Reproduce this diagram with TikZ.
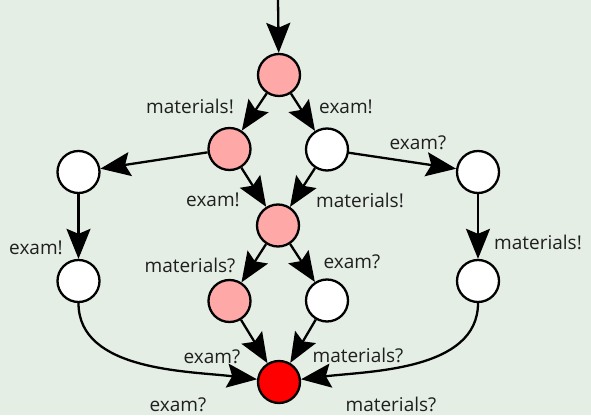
\documentclass[tikz,border=0pt]{standalone}
\usepackage{fontspec}
\setmainfont{Open Sans}
\usetikzlibrary{arrows.meta}
\definecolor{bg}{RGB}{228,238,229}
\definecolor{pinkst}{RGB}{255,168,168}
\definecolor{redst}{RGB}{255,0,0}
\begin{document}
\begin{tikzpicture}[x=1pt,y=1pt,
  st/.style={circle,draw=black,line width=2.3pt,minimum size=42pt,inner sep=0pt,fill=white},
  pk/.style={st,fill=pinkst},
  rd/.style={st,fill=redst},
  edge/.style={line width=2.3pt,-{Stealth[length=30pt,width=24pt,inset=5pt]}},
  lbl/.style={font=\fontsize{19}{22}\selectfont,inner sep=0pt,text=black!88}]
\fill[bg] (0,0) rectangle (591,415);
\useasboundingbox (0,0) rectangle (591,415);
\coordinate (start) at (278,415);
\node[pk] (s0) at (279,340) {};
\node[pk] (s1) at (229.5,266) {};
\node[st] (s2) at (327,265.5) {};
\node[pk] (s3) at (278,189.5) {};
\node[pk] (s4) at (229.5,114) {};
\node[st] (s5) at (327,114.5) {};
\node[rd] (s6) at (279,33) {};
\node[st] (L1) at (78.5,243) {};
\node[st] (L2) at (78.5,134) {};
\node[st] (R1) at (478,243) {};
\node[st] (R2) at (478,134) {};
\draw[edge] (start) -- (s0);
\draw[edge] (s0) -- (s1);
\draw[edge] (s0) -- (s2);
\draw[edge] (s1) -- (L1);
\draw[edge] (s1) -- (s3);
\draw[edge] (s2) -- (s3);
\draw[edge] (s2) -- (R1);
\draw[edge] (L1) -- (L2);
\draw[edge] (R1) -- (R2);
\draw[edge] (s3) -- (s4);
\draw[edge] (s3) -- (s5);
\draw[edge] (s4) -- (s6);
\draw[edge] (s5) -- (s6);
\draw[edge] (L2) to[out=-90,in=173,looseness=0.9] (s6);
\draw[edge] (R2) to[out=-90,in=7,looseness=0.9] (s6);
\node[lbl] (t1) at (190,309) {materials!};
\node[lbl] (t2) at (346,308) {exam!};
\node[lbl] (t3) at (418,272.5) {exam?};
\node[lbl] (t4) at (213,215) {exam!};
\node[lbl] (t5) at (360,215) {materials!};
\node[lbl] (t6) at (36,167) {exam!};
\node[lbl] (t7) at (538,173) {materials!};
\node[lbl] (t8) at (190,150) {materials?};
\node[lbl] (t9) at (352,153) {exam?};
\node[lbl] (t10) at (212,58) {exam?};
\node[lbl] (t11) at (358,60) {materials?};
\node[lbl] (t12) at (178,10) {exam?};
\node[lbl] (t13) at (391,11) {materials?};
\end{tikzpicture}
\end{document}
